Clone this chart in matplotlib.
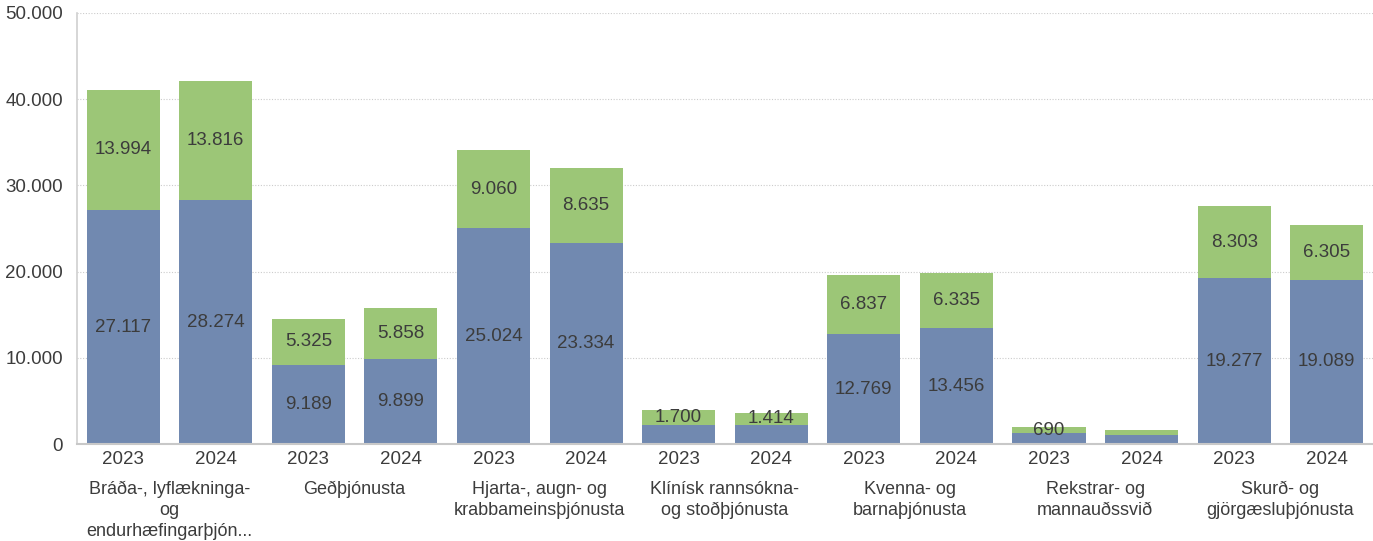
import numpy as np
from matplotlib import pyplot as plt
from matplotlib.ticker import FuncFormatter
import matplotlib.transforms as mtrans

plt.rcParams['font.family'] = ['Liberation Sans', 'DejaVu Sans']

groups = ["Bráða-, lyflækninga-\nog\nendurhæfingarþjón...",
          "Geðþjónusta",
          "Hjarta-, augn- og\nkrabbameinsþjónusta",
          "Klínísk rannsókna-\nog stoðþjónusta",
          "Kvenna- og\nbarnaþjónusta",
          "Rekstrar- og\nmannauðssvið",
          "Skurð- og\ngjörgæsluþjónusta"]
years = ["2023", "2024"]
blue_2023 = [27117, 9189, 25024, 2230, 12769, 1270, 19277]
blue_2024 = [28274, 9899, 23334, 2250, 13456, 1040, 19089]
green_2023 = [13994, 5325, 9060, 1700, 6837, 690, 8303]
green_2024 = [13816, 5858, 8635, 1414, 6335, 580, 6305]

BLUE = "#7189b0"
GREEN = "#9cc677"
TXT = "#3c3c3c"
FS = 13.5

blue = [v for pair in zip(blue_2023, blue_2024) for v in pair]
green = [v for pair in zip(green_2023, green_2024) for v in pair]
xlabels = years * len(groups)
x = np.arange(len(blue))

fig = plt.figure(figsize=(13.73, 5.41), dpi=100)
ax = fig.add_axes([0.056, 0.179, 0.944, 0.797])

ax.bar(x, blue, width=0.79, color=BLUE, zorder=2)
ax.bar(x, green, width=0.79, bottom=blue, color=GREEN, zorder=2)

for xi, b, g in zip(x, blue, green):
    if b >= 5000:
        ax.text(xi, b / 2, f"{b:,}".replace(",", "."), ha="center",
                va="center", fontsize=FS, color=TXT, zorder=3)
    if g >= 600:
        ax.text(xi, b + g / 2, f"{g:,}".replace(",", "."), ha="center",
                va="center", fontsize=FS, color=TXT, zorder=3)

ax.set_xlim(-0.5, len(blue) - 0.5)
ax.set_ylim(0, 50000)
ax.set_yticks(np.arange(0, 50001, 10000))
ax.yaxis.set_major_formatter(FuncFormatter(
    lambda v, p: f"{int(v):,}".replace(",", ".")))
ax.set_xticks(x)
ax.set_xticklabels(xlabels)
ax.tick_params(axis='both', length=0, labelsize=FS, labelcolor=TXT)
ax.tick_params(axis='x', pad=5)
ax.tick_params(axis='y', pad=10)
ax.grid(axis='y', color="#cccccc", linestyle=(0, (1, 1.5)), linewidth=0.8,
        zorder=0)
for s in ["top", "right"]:
    ax.spines[s].set_visible(False)
ax.spines["left"].set_color("#d0d0d0")
ax.spines["bottom"].set_color("#c8c8c8")
ax.spines["left"].set_linewidth(1.2)
ax.spines["bottom"].set_linewidth(1.5)

trans = mtrans.blended_transform_factory(ax.transData, ax.transAxes)
for i, g in enumerate(groups):
    ax.text(2 * i + 0.5, -0.085, g, transform=trans, ha="center", va="top",
            fontsize=13, color=TXT, linespacing=1.3)

fig.savefig("out.png", dpi=100)
